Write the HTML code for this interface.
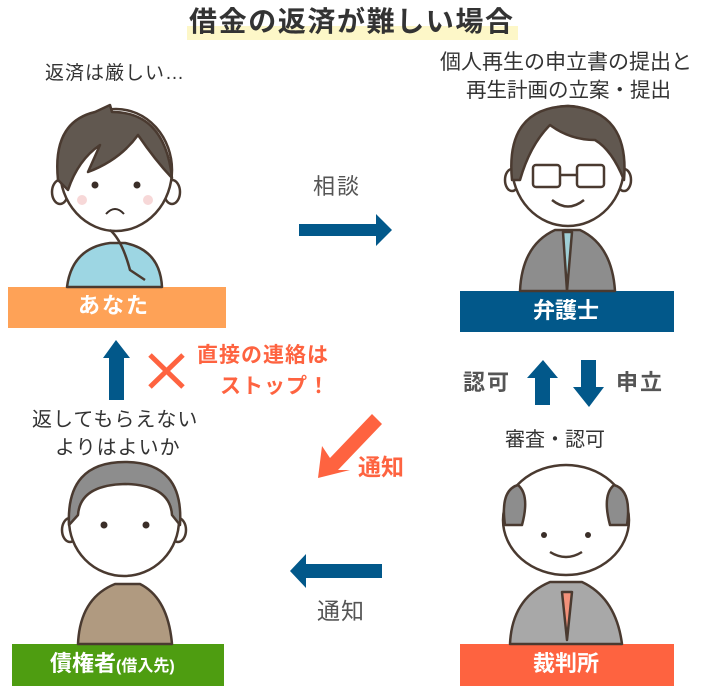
<!DOCTYPE html>
<html><head><meta charset="utf-8"><style>
html,body{margin:0;padding:0;background:#fff;}
body{width:706px;height:694px;overflow:hidden;position:relative;font-family:"Liberation Sans","Noto Sans CJK JP",sans-serif;}
.t{position:absolute;white-space:nowrap;line-height:1;}
</style></head><body>
<svg width="706" height="694" style="position:absolute;left:0;top:0">
<rect x="187" y="26" width="331" height="14" fill="#fdf7c8"/>
<rect x="8" y="287" width="218" height="41" fill="#fea257"/>
<rect x="460" y="291" width="214" height="41" fill="#02588a"/>
<rect x="12" y="644" width="212" height="42" fill="#4e9d11"/>
<rect x="460" y="644" width="214" height="42" fill="#fe6340"/>
<polygon points="299,224 376,224 376,214 392,230 376,246 376,236 299,236" fill="#02588a"/>
<polygon points="109,400 109,358 103,358 116,340 130,358 124,358 124,400" fill="#02588a"/>
<polygon points="535,405 535,378 527,378 543,360 558,378 550,378 550,405" fill="#02588a"/>
<polygon points="581,360 596,360 596,387 604,387 589,407 573,387 581,387" fill="#02588a"/>
<polygon points="382,564 382,578 306,578 306,588 290,571 306,554 306,564" fill="#02588a"/>
<polygon points="372,414 382,424 338,470 350,470 318,478 322,446 330,458" fill="#fe6340"/>
<path d="M150 355 L183 387 M183 355 L150 387" stroke="#fe6340" stroke-width="5"/>
<!-- boy -->
<g stroke="#4a3a30" stroke-width="2.5" stroke-linejoin="round">
<path d="M67 287 Q72 248 110 243 L125 243 Q160 250 162 287 Z" fill="#9dd6e3"/>
<ellipse cx="60" cy="192" rx="8" ry="12" fill="#fff"/>
<ellipse cx="172" cy="192" rx="8" ry="12" fill="#fff"/>
<ellipse cx="116" cy="170" rx="56" ry="61" fill="#fff"/>
<path d="M58 180 Q52 122 95 112 L110 105 L112 112 Q165 112 172 178 Q155 160 138 135 Q120 160 88 172 L100 145 Q78 160 68 190 Z" fill="#615850"/>
<path d="M110 230 Q122 240 130 270 L145 280" fill="none"/>
</g>
<g fill="#3a2e28"><circle cx="95" cy="185" r="3.5"/><circle cx="137" cy="185" r="3.5"/></g>
<path d="M106 214 Q115 204 124 214" stroke="#3a2e28" stroke-width="2" fill="none"/>
<circle cx="82" cy="200" r="5" fill="#f7d8d8"/><circle cx="148" cy="200" r="5" fill="#f7d8d8"/>
<!-- lawyer -->
<g stroke="#4a3a30" stroke-width="2.5" stroke-linejoin="round">
<path d="M520 291 Q522 245 555 230 L580 230 Q612 245 615 291 Z" fill="#8d8d8d"/>
<path d="M563 232 L567 291 L572 232 Z" fill="#9fcfd6"/>
<ellipse cx="512" cy="180" rx="7" ry="11" fill="#fff"/>
<ellipse cx="624" cy="180" rx="7" ry="11" fill="#fff"/>
<ellipse cx="568" cy="166" rx="56" ry="60" fill="#fff"/>
<path d="M512 180 Q505 108 568 106 Q630 110 624 180 Q612 150 595 140 Q570 140 550 125 Q530 145 520 180 Z" fill="#615850"/>
<rect x="533" y="165" width="27" height="22" rx="3" fill="none"/>
<rect x="577" y="165" width="27" height="22" rx="3" fill="none"/>
<path d="M560 175 L577 175" fill="none"/>
<path d="M552 200 Q568 213 584 200" fill="none"/>
</g>
<!-- debtor man -->
<g stroke="#4a3a30" stroke-width="2.5" stroke-linejoin="round">
<path d="M78 644 Q80 598 115 584 L140 584 Q168 598 172 644 Z" fill="#b09a80"/>
<ellipse cx="70" cy="530" rx="8" ry="12" fill="#fff"/>
<ellipse cx="178" cy="530" rx="8" ry="12" fill="#fff"/>
<ellipse cx="124" cy="520" rx="55" ry="56" fill="#fff"/>
<path d="M69 525 Q66 462 125 462 Q184 462 180 525 L172 515 Q170 485 125 484 Q80 485 78 515 Z" fill="#8d8d8d"/>
</g>
<g fill="#3a2e28"><circle cx="104" cy="525" r="3.5"/><circle cx="146" cy="525" r="3.5"/></g>
<!-- judge -->
<g stroke="#4a3a30" stroke-width="2.5" stroke-linejoin="round">
<path d="M510 644 Q512 598 550 582 L582 582 Q616 598 622 644 Z" fill="#a8a8a8"/>
<path d="M562 592 L567 640 L572 592 Z" fill="#f3917a"/>
<ellipse cx="566" cy="520" rx="63" ry="55" fill="#fff"/>
<path d="M505 525 Q500 490 518 485 Q530 495 522 525 Z" fill="#8d8d8d"/>
<path d="M627 525 Q632 490 614 485 Q602 495 610 525 Z" fill="#8d8d8d"/>
<path d="M550 552 Q566 562 582 552" fill="none"/>
</g>
<g fill="#3a2e28"><circle cx="544" cy="535" r="3"/><circle cx="588" cy="535" r="3"/></g>
</svg>
<div class="t" style="left:189px;top:8px;font-size:28px;font-weight:bold;color:#333;letter-spacing:1.6px">借金の返済が難しい場合</div>
<div class="t" style="left:45px;top:64px;font-size:19px;color:#333;letter-spacing:1px">返済は厳しい…</div>
<div class="t" style="left:440px;top:52px;font-size:21px;color:#333">個人再生の申立書の提出と</div>
<div class="t" style="left:466px;top:81px;font-size:20.5px;color:#333">再生計画の立案・提出</div>
<div class="t" style="left:313px;top:176px;font-size:22px;color:#555;letter-spacing:2px">相談</div>
<div class="t" style="left:78px;top:295px;font-size:22px;font-weight:bold;color:#fff;letter-spacing:2px">あなた</div>
<div class="t" style="left:533px;top:300px;font-size:22px;font-weight:bold;color:#fff">弁護士</div>
<div class="t" style="left:197px;top:345px;font-size:21px;font-weight:bold;color:#fe6340;letter-spacing:1px">直接の連絡は</div>
<div class="t" style="left:220px;top:376px;font-size:21px;font-weight:bold;color:#fe6340;letter-spacing:1px">ストップ！</div>
<div class="t" style="left:463px;top:372px;font-size:22px;font-weight:bold;color:#555;letter-spacing:2px">認可</div>
<div class="t" style="left:616px;top:372px;font-size:22px;font-weight:bold;color:#555;letter-spacing:2px">申立</div>
<div class="t" style="left:32px;top:410px;font-size:20px;color:#333;letter-spacing:1px">返してもらえない</div>
<div class="t" style="left:55px;top:438px;font-size:20px;color:#333;letter-spacing:1px">よりはよいか</div>
<div class="t" style="left:505px;top:430px;font-size:20px;color:#333">審査・認可</div>
<div class="t" style="left:358px;top:456px;font-size:23px;font-weight:bold;color:#fe6340">通知</div>
<div class="t" style="left:317px;top:600px;font-size:23px;color:#555;letter-spacing:1px">通知</div>
<div class="t" style="left:50px;top:653px;font-size:22px;font-weight:bold;color:#fff">債権者<span style="font-size:16px">(借入先)</span></div>
<div class="t" style="left:533px;top:653px;font-size:22px;font-weight:bold;color:#fff">裁判所</div>
</body></html>
